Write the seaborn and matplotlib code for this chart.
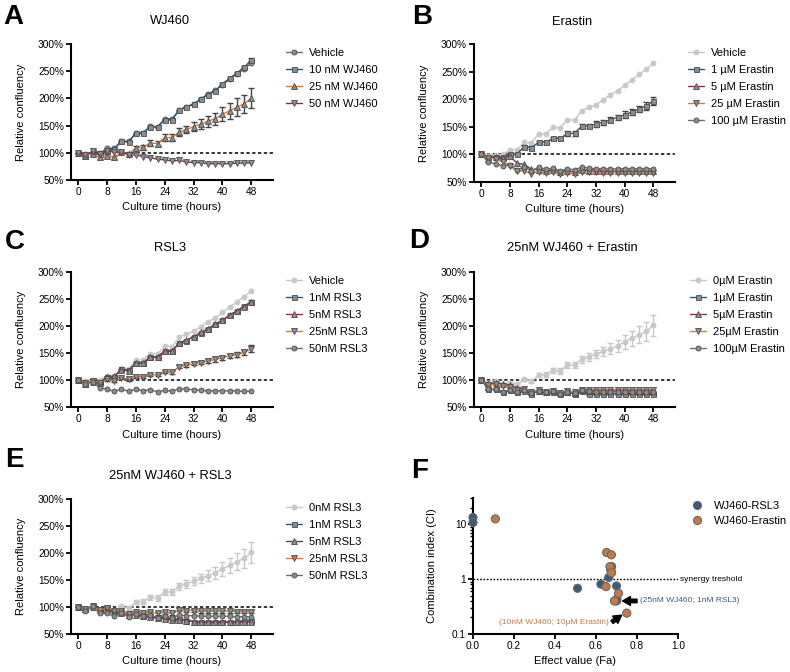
import matplotlib
matplotlib.use("Agg")
import matplotlib.pyplot as plt
import seaborn as sns
import pandas as pd
from matplotlib.ticker import FixedLocator, FixedFormatter, NullFormatter, LogLocator

# ---- data ----
TIME = [0, 2, 4, 6, 8, 10, 12, 14, 16, 18, 20, 22, 24, 26, 28, 30, 32, 34, 36, 38, 40, 42, 44, 46, 48]

VEHICLE = [100, 98, 99, 100, 108, 108, 122, 121, 137, 137, 149, 148, 163, 162, 179, 185, 190, 199, 208, 215, 225, 235, 245, 254, 265]

# A: WJ460
A_10NM = [100, 95, 101, 98, 104, 107, 121, 120, 136, 137, 148, 147, 161, 161, 178, 184, 189, 199, 207, 214, 227, 237, 247, 257, 271]
A_10NM_ERR = [0, 1, 1, 1, 1, 1, 1, 1, 1, 1, 1, 1, 1, 1, 1, 1, 1, 1, 1, 1, 2, 2, 2, 2, 3]
A_25NM = [100, 95, 98, 92, 95, 92, 101, 98, 109, 110, 118, 117, 128, 128, 138, 143, 148, 153, 158, 163, 171, 177, 184, 190, 201]
A_25NM_ERR = [0, 2, 2, 3, 3, 3, 2, 3, 4, 4, 5, 5, 6, 6, 7, 7, 8, 9, 10, 11, 13, 14, 16, 17, 19]
A_50NM = [100, 96, 103, 98, 104, 101, 101, 96, 96, 93, 91, 88, 87, 85, 86, 83, 82, 82, 80, 80, 80, 80, 81, 81, 82]

# B: Erastin
B_1UM = [100, 96, 96, 95, 101, 101, 114, 112, 122, 122, 129, 129, 138, 138, 151, 151, 155, 158, 163, 167, 172, 177, 182, 188, 197]
B_1UM_ERR = [0, 2, 2, 2, 2, 2, 3, 3, 3, 3, 3, 3, 4, 4, 4, 4, 5, 5, 5, 5, 6, 6, 6, 7, 7]
B_5UM = [100, 92, 95, 93, 97, 84, 82, 73, 72, 70, 71, 69, 70, 68, 71, 70, 70, 70, 70, 70, 70, 70, 70, 70, 70]
B_25UM = [100, 93, 92, 87, 79, 70, 70, 65, 69, 66, 68, 65, 66, 65, 68, 68, 68, 67, 67, 67, 67, 67, 67, 67, 67]
B_100UM = [100, 86, 83, 79, 81, 72, 78, 70, 77, 73, 75, 70, 74, 72, 77, 75, 74, 74, 74, 74, 74, 74, 74, 74, 74]

# C: RSL3
C_1NM = [100, 93, 98, 96, 105, 106, 120, 118, 132, 132, 143, 142, 153, 154, 168, 173, 180, 187, 195, 203, 211, 220, 228, 237, 245]
C_5NM = [100, 93, 97, 95, 106, 107, 119, 117, 131, 131, 142, 143, 154, 153, 169, 174, 180, 188, 195, 203, 211, 220, 228, 236, 245]
C_1NM_ERR = [0, 1, 1, 1, 1, 1, 1, 1, 1, 1, 1, 1, 1, 1, 1, 1, 1, 1, 1, 1, 2, 2, 2, 2, 3]
C_25NM = [100, 95, 99, 95, 101, 98, 104, 101, 106, 106, 110, 109, 115, 114, 125, 127, 130, 132, 135, 138, 141, 145, 147, 151, 158]
C_25NM_ERR = [0, 2, 2, 2, 2, 2, 2, 2, 2, 2, 2, 2, 2, 2, 3, 3, 3, 3, 4, 4, 4, 4, 5, 5, 6]
C_50NM = [100, 93, 96, 85, 83, 79, 83, 79, 83, 80, 82, 78, 81, 79, 84, 83, 82, 81, 80, 80, 80, 80, 80, 79, 79]

# D: 25nM WJ460 + Erastin (0 uM = 25nM WJ460 alone)
D_1UM = [100, 83, 83, 78, 81, 77, 80, 75, 79, 77, 78, 74, 77, 74, 79, 74, 74, 74, 74, 74, 74, 74, 74, 74, 74]
D_5UM = [100, 92, 95, 92, 90, 86, 83, 78, 80, 78, 79, 76, 78, 76, 81, 80, 80, 80, 80, 80, 80, 80, 80, 80, 80]
D_25UM = [100, 90, 92, 88, 87, 82, 83, 78, 81, 78, 79, 76, 79, 77, 82, 82, 82, 82, 82, 82, 82, 82, 82, 82, 82]
D_100UM = [100, 83, 83, 78, 81, 77, 81, 76, 80, 77, 79, 75, 78, 76, 82, 79, 78, 78, 78, 78, 78, 78, 77, 77, 77]
D_SMALL_ERR = [0, 1, 1, 1, 1, 1, 1, 1, 1, 1, 1, 1, 1, 1, 2, 2, 2, 2, 2, 2, 2, 2, 2, 2, 2]

# E: 25nM WJ460 + RSL3
E_1NM = [100, 97, 101, 96, 98, 92, 91, 88, 88, 85, 83, 81, 80, 78, 77, 75, 73, 72, 72, 72, 72, 73, 73, 74, 75]
E_5NM = [100, 97, 100, 95, 97, 91, 89, 86, 85, 83, 81, 79, 78, 76, 76, 75, 73, 72, 72, 72, 72, 72, 72, 72, 72]
E_25NM = [100, 96, 101, 94, 99, 93, 92, 87, 90, 89, 90, 88, 90, 88, 95, 93, 93, 92, 92, 92, 92, 92, 91, 91, 91]
E_25NM_ERR = [0, 1, 1, 2, 2, 2, 2, 2, 2, 2, 3, 3, 3, 3, 3, 3, 3, 3, 3, 3, 3, 3, 3, 3, 3]
E_50NM = [100, 93, 101, 88, 88, 84, 88, 82, 87, 84, 85, 80, 84, 80, 85, 84, 84, 83, 83, 83, 83, 83, 82, 82, 82]

# F: combination index vs effect
RSL3_FA = [0.0, 0.0, 0.51, 0.624, 0.662, 0.676, 0.672, 0.70, 0.702, 0.70]
RSL3_CI = [13.3, 10.7, 0.68, 0.81, 1.07, 1.69, 1.45, 0.75, 0.43, 0.40]
ERAS_FA = [0.109, 0.652, 0.675, 0.668, 0.676, 0.649, 0.71, 0.69, 0.75]
ERAS_CI = [12.5, 3.05, 2.77, 1.69, 1.31, 0.73, 0.55, 0.40, 0.24]

# ---- styling ----
W, H = 790, 672
BLUE = "#1f5b86"
ORANGE = "#e8772e"
MAROON = "#8c2d52"
GRAY = "#6e6e6e"
LIGHT = "#c8c8c8"
MFILL = "#8c8c8c"
MEDGE = "#4d4d4d"
ERRC = "#444444"
F_BLUE = "#3b5b77"
F_ORANGE = "#c27a48"

sns.set_theme(style="ticks")
plt.rcParams["font.family"] = ["Liberation Sans", "DejaVu Sans"]
for key in ["text.color", "axes.labelcolor", "xtick.color", "ytick.color", "axes.edgecolor"]:
    plt.rcParams[key] = "black"
plt.rcParams["axes.linewidth"] = 1.5
plt.rcParams["xtick.major.width"] = 1.3
plt.rcParams["ytick.major.width"] = 1.3
plt.rcParams["xtick.minor.width"] = 1.0
plt.rcParams["ytick.minor.width"] = 1.0
plt.rcParams["xtick.major.size"] = 3.5
plt.rcParams["ytick.major.size"] = 3.5
plt.rcParams["xtick.labelsize"] = 7.3
plt.rcParams["ytick.labelsize"] = 7.3
plt.rcParams["xtick.major.pad"] = 1.5
plt.rcParams["ytick.major.pad"] = 1.5


def px_axes(fig, left, top, right, bottom):
    return fig.add_axes([left / W, 1 - bottom / H, (right - left) / W, (bottom - top) / H])


def growth_panel(ax, series, legend_xy):
    handles = []
    for i, (label, vals, errs, color, marker, light) in enumerate(series):
        fill = LIGHT if light else MFILL
        edge = LIGHT if light else MEDGE
        if errs is not None:
            ax.errorbar(TIME, vals, yerr=errs, fmt="none", ecolor=LIGHT if light else ERRC,
                        elinewidth=1.0, capsize=2.4, capthick=1.0, zorder=2 + i)
        ms = 4.2 if marker in ("^", "v") else 3.6
        n_before = len(ax.lines)
        sns.lineplot(x=TIME, y=vals, ax=ax, color=color, linewidth=1.0, marker=marker,
                     markersize=ms, markeredgewidth=0.6, label=label, legend=False,
                     zorder=2.5 + i)
        line = ax.lines[n_before]
        line.set_markerfacecolor(fill)
        line.set_markeredgecolor(edge)
        handles.append(line)
    ax.plot([0, 54], [100, 100], color="black", linestyle=(0, (2.2, 1.6)), linewidth=1.1, zorder=1)
    ax.set_xlim(-2, 54)
    ax.set_ylim(50, 300)
    ax.xaxis.set_major_locator(FixedLocator([0, 8, 16, 24, 32, 40, 48]))
    ax.yaxis.set_major_locator(FixedLocator([50, 100, 150, 200, 250, 300]))
    ax.set_yticklabels(["50%", "100%", "150%", "200%", "250%", "300%"])
    ax.set_xlabel("Culture time (hours)", fontsize=8, labelpad=4)
    ax.set_ylabel("Relative confluency", fontsize=8, labelpad=9)
    sns.despine(ax=ax)
    fig = ax.figure
    ax.legend(handles, [s[0] for s in series], loc="upper left",
              bbox_to_anchor=(legend_xy[0] / W, 1 - legend_xy[1] / H),
              bbox_transform=fig.transFigure, frameon=False, fontsize=8, handlelength=1.4,
              handletextpad=0.7, labelspacing=0.62, borderpad=0, borderaxespad=0)


fig = plt.figure(figsize=(W / 100, H / 100), dpi=100)

axA = px_axes(fig, 71, 44, 273, 180)
growth_panel(axA, [
    ("Vehicle", VEHICLE, None, GRAY, "o", False),
    ("10 nM WJ460", A_10NM, A_10NM_ERR, BLUE, "s", False),
    ("25 nM WJ460", A_25NM, A_25NM_ERR, ORANGE, "^", False),
    ("50 nM WJ460", A_50NM, None, MAROON, "v", False),
], (286, 48))

axB = px_axes(fig, 474, 44, 675, 182)
growth_panel(axB, [
    ("Vehicle", VEHICLE, None, LIGHT, "o", True),
    ("1 µM Erastin", B_1UM, B_1UM_ERR, BLUE, "s", False),
    ("5 µM Erastin", B_5UM, None, MAROON, "^", False),
    ("25 µM Erastin", B_25UM, None, ORANGE, "v", False),
    ("100 µM Erastin", B_100UM, None, GRAY, "o", False),
], (688, 48))

axC = px_axes(fig, 71, 272, 273, 407)
growth_panel(axC, [
    ("Vehicle", VEHICLE, None, LIGHT, "o", True),
    ("1nM RSL3", C_1NM, C_1NM_ERR, BLUE, "s", False),
    ("5nM RSL3", C_5NM, None, MAROON, "^", False),
    ("25nM RSL3", C_25NM, C_25NM_ERR, ORANGE, "v", False),
    ("50nM RSL3", C_50NM, None, GRAY, "o", False),
], (286, 276))

axD = px_axes(fig, 474, 272, 675, 407)
growth_panel(axD, [
    ("0µM Erastin", A_25NM, A_25NM_ERR, LIGHT, "o", True),
    ("1µM Erastin", D_1UM, D_SMALL_ERR, BLUE, "s", False),
    ("5µM Erastin", D_5UM, None, MAROON, "^", False),
    ("25µM Erastin", D_25UM, None, ORANGE, "v", False),
    ("100µM Erastin", D_100UM, D_SMALL_ERR, GRAY, "o", False),
], (690, 276))

axE = px_axes(fig, 71, 499, 273, 634)
growth_panel(axE, [
    ("0nM RSL3", A_25NM, A_25NM_ERR, LIGHT, "o", True),
    ("1nM RSL3", E_1NM, D_SMALL_ERR, BLUE, "s", False),
    ("5nM RSL3", E_5NM, None, MAROON, "^", False),
    ("25nM RSL3", E_25NM, E_25NM_ERR, ORANGE, "v", False),
    ("50nM RSL3", E_50NM, None, GRAY, "o", False),
], (286, 503))

# ---- F: combination index scatter ----
axF = px_axes(fig, 473, 498, 678, 634)
df_f = pd.concat([
    pd.DataFrame({"Fa": RSL3_FA, "CI": RSL3_CI, "combo": "WJ460-RSL3"}),
    pd.DataFrame({"Fa": ERAS_FA, "CI": ERAS_CI, "combo": "WJ460-Erastin"}),
])
axF.plot([0, 1], [1, 1], color="black", linestyle=(0, (1.2, 1.2)), linewidth=1.0, zorder=1)
sns.scatterplot(data=df_f, x="Fa", y="CI", hue="combo", ax=axF, s=34,
                palette={"WJ460-RSL3": F_BLUE, "WJ460-Erastin": F_ORANGE},
                edgecolor="#6a6a6a", linewidth=0.8, clip_on=False, zorder=3)
axF.set_yscale("log")
axF.set_xlim(0, 1)
axF.set_ylim(0.1, 30)
axF.xaxis.set_major_locator(FixedLocator([0, 0.2, 0.4, 0.6, 0.8, 1.0]))
axF.set_xticklabels(["0.0", "0.2", "0.4", "0.6", "0.8", "1.0"])
axF.yaxis.set_major_locator(FixedLocator([0.1, 1, 10]))
axF.yaxis.set_major_formatter(FixedFormatter(["0.1", "1", "10"]))
axF.yaxis.set_minor_locator(LogLocator(base=10, subs=(2, 3, 4, 5, 6, 7, 8, 9)))
axF.yaxis.set_minor_formatter(NullFormatter())
axF.tick_params(axis="y", which="minor", length=2.2)
axF.set_xlabel("Effect value (Fa)", fontsize=8, labelpad=4)
axF.set_ylabel("Combination index (CI)", fontsize=8, labelpad=11)
sns.despine(ax=axF)
axF.text(1.01, 1, "synergy treshold", fontsize=6, va="center", ha="left", clip_on=False)
arrow_kw = dict(arrowstyle="simple,head_length=0.7,head_width=0.8,tail_width=0.32",
                color="black", shrinkA=0, shrinkB=0, mutation_scale=8)
axF.annotate("", xy=(0.73, 0.40), xytext=(0.80, 0.40), arrowprops=arrow_kw)
axF.text(0.815, 0.40, "(25nM WJ460; 1nM RSL3)", fontsize=6, color=F_BLUE, va="center", ha="left")
axF.annotate("", xy=(0.725, 0.22), xytext=(0.678, 0.165), arrowprops=arrow_kw)
axF.text(0.66, 0.163, "(10nM WJ460; 10µM Erastin)", fontsize=6, color=F_ORANGE, va="center", ha="right")
axF.legend(loc="upper left", bbox_to_anchor=(686 / W, 1 - 501 / H), bbox_transform=fig.transFigure,
           frameon=False, fontsize=8, handletextpad=0.5, labelspacing=0.45, borderpad=0,
           borderaxespad=0, markerscale=1.0)

# ---- titles and panel letters ----
titles = [("WJ460", 170, 21), ("Erastin", 572, 22), ("RSL3", 170, 248),
          ("25nM WJ460 + Erastin", 572, 248), ("25nM WJ460 + RSL3", 170, 476)]
for txt, x, y in titles:
    fig.text(x / W, 1 - y / H, txt, fontsize=9.3, ha="center", va="center")

letters = [("A", 3, 17), ("B", 412, 17), ("C", 5, 242), ("D", 409, 241), ("E", 5, 460), ("F", 411, 471)]
for txt, x, y in letters:
    fig.text(x / W, 1 - y / H, txt, fontsize=20, fontweight="heavy", ha="left", va="center")

fig.savefig("out.png", dpi=100)
